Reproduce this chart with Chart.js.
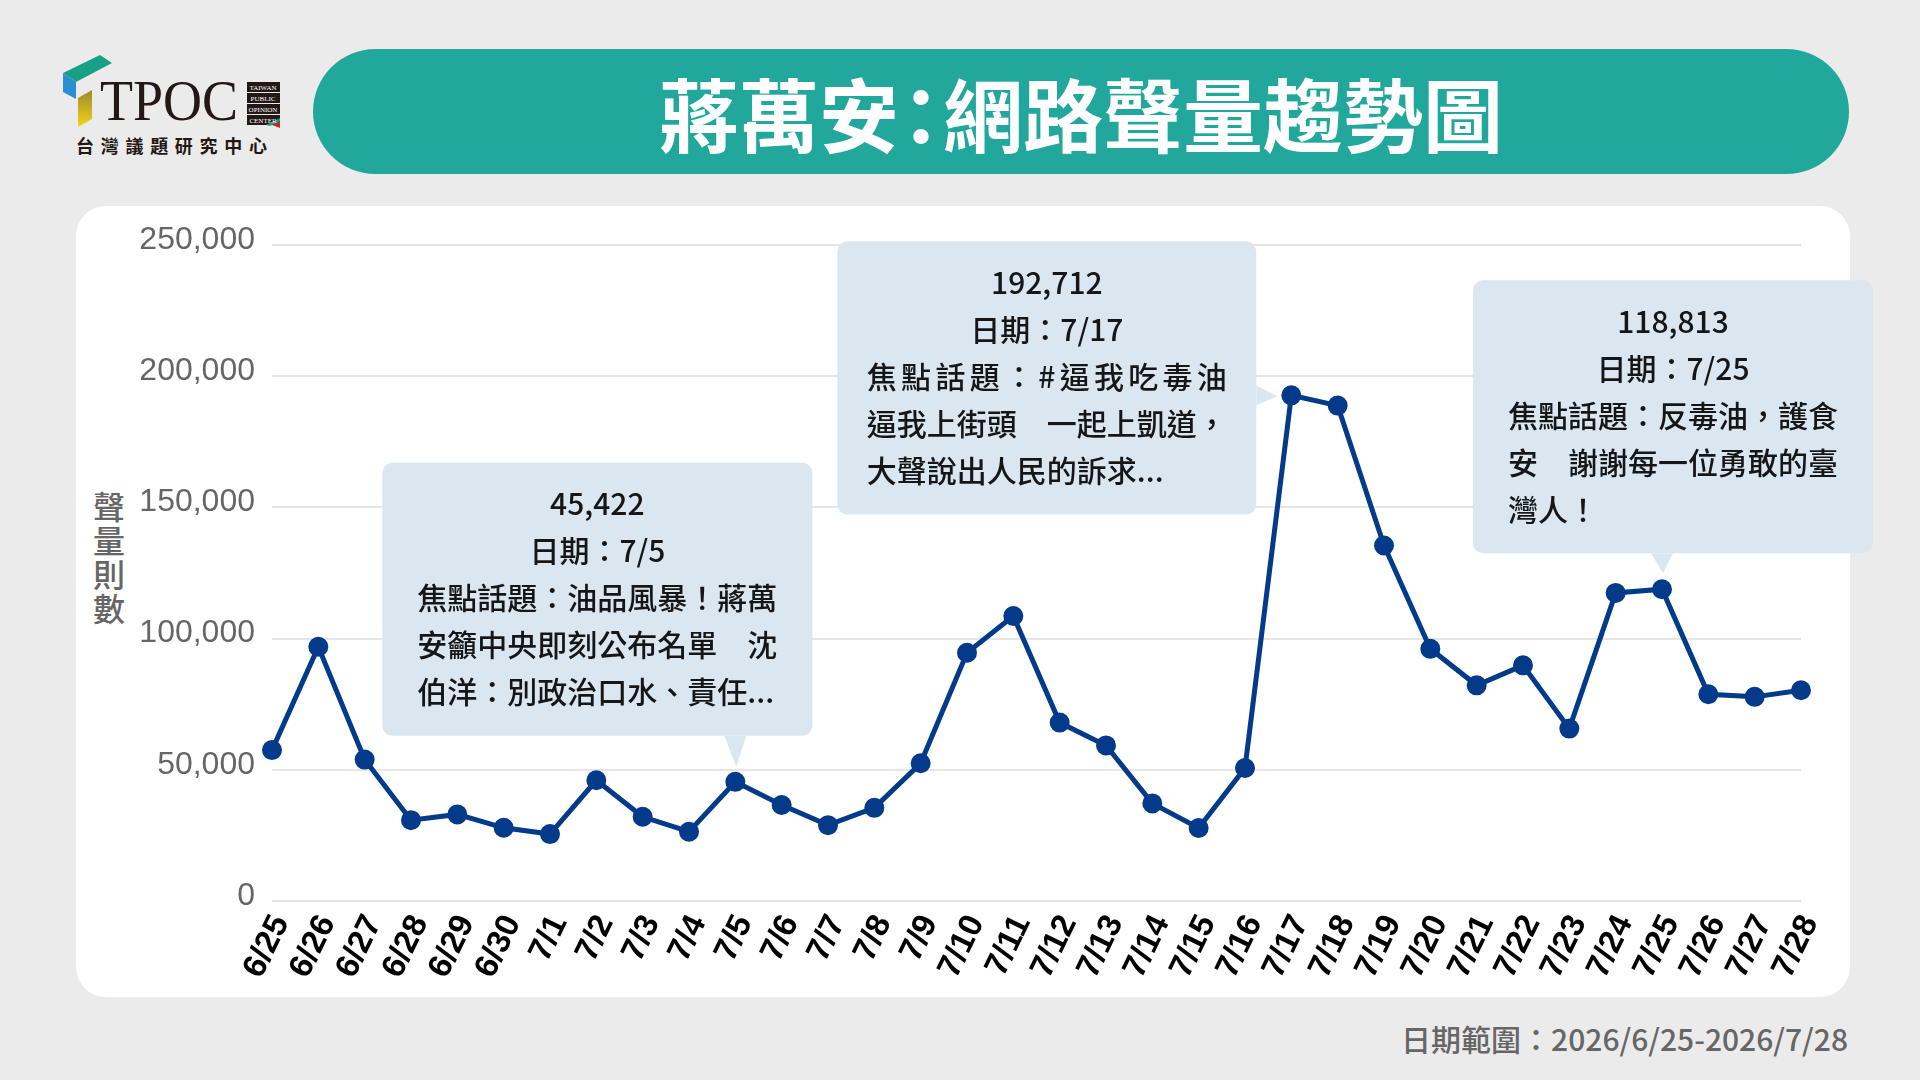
<!DOCTYPE html>
<html lang="zh-Hant">
<head>
<meta charset="utf-8">
<script src="https://cdn.jsdelivr.net/npm/chart.js@4.4.1/dist/chart.umd.min.js"></script>
<style>
html, body { margin: 0; padding: 0; }
body { width: 1920px; height: 1080px; background: #ebebeb; position: relative; overflow: hidden;
  font-family: "Noto Sans CJK TC", "Noto Sans", sans-serif; }
#pill { position: absolute; left: 313px; top: 49px; width: 1536px; height: 125px; border-radius: 63px;
  background: #21a79c; color: #fff; font-weight: 700; font-size: 80px; line-height: 125px; text-align: center; }
#pill .colon { display: inline-block; margin: 0 -18px; }
#card { position: absolute; left: 76px; top: 206px; width: 1774px; height: 791px; border-radius: 30px; background: #fff; }
#ytitle { position: absolute; left: 92px; top: 488px; width: 34px; font-size: 32px; line-height: 34px; color: #666;
  text-align: center; font-weight: 500; }
#footer { position: absolute; right: 72px; top: 1018px; font-size: 30px; line-height: 40px; color: #666; font-weight: 500; }
#logo { position: absolute; left: 0; top: 0; }
#chart { position: absolute; left: 0; top: 0; }
</style>
</head>
<body>
<svg id="logo" width="300" height="170">
  <defs>
    <linearGradient id="yel" x1="0" y1="0" x2="0" y2="1">
      <stop offset="0" stop-color="#9c8a2a"/>
      <stop offset="1" stop-color="#f5d415"/>
    </linearGradient>
  </defs>
  <polygon points="63,73 100,55 112,63 76,82" fill="#16a085"/>
  <polygon points="63,73 76,82 76,99 63,92" fill="#2a8fd2"/>
  <polygon points="78,98 92,90 92,119 78,127" fill="url(#yel)"/>
  <text x="100" y="120" font-family="Liberation Serif" font-size="56" fill="#231815" textLength="138" lengthAdjust="spacingAndGlyphs">TPOC</text>
  <g font-family="Liberation Serif" font-size="7" fill="#fff" text-anchor="middle">
    <rect x="247" y="82" width="33" height="10" fill="#231815"/>
    <rect x="247" y="93" width="33" height="10" fill="#231815"/>
    <rect x="247" y="104" width="33" height="10" fill="#231815"/>
    <rect x="247" y="115" width="33" height="10" fill="#231815"/>
    <polygon points="272,125 280,120 280,128" fill="#c0282f"/>
    <polygon points="266,125 280,118 280,121 270,126" fill="#16a085"/>
    <text x="263" y="90">TAIWAN</text>
    <text x="263" y="101">PUBLIC</text>
    <text x="263" y="112">OPINION</text>
    <text x="263" y="123">CENTER</text>
  </g>
  <text x="76" y="153" font-family="Noto Sans CJK TC" font-weight="700" font-size="18" fill="#231815" textLength="191">台灣議題研究中心</text>
</svg>
<div id="pill">蔣萬安<span class="colon">：</span>網路聲量趨勢圖</div>
<div id="card"></div>
<div id="ytitle">聲<br>量<br>則<br>數</div>
<div id="footer">日期範圍：2026/6/25-2026/7/28</div>
<canvas id="chart" width="1920" height="1080"></canvas>
<script>
// dates on the x axis
const dates = ['6/25', '6/26', '6/27', '6/28', '6/29', '6/30', '7/1', '7/2', '7/3', '7/4', '7/5', '7/6',
  '7/7', '7/8', '7/9', '7/10', '7/11', '7/12', '7/13', '7/14', '7/15', '7/16', '7/17', '7/18', '7/19',
  '7/20', '7/21', '7/22', '7/23', '7/24', '7/25', '7/26', '7/27', '7/28'];
// daily online volume (peaks are labelled)
const volumes = [57500, 96900, 53900, 30800, 33000, 27900, 25500, 46000, 32100, 26400, 45422, 36600,
  28900, 35500, 52500, 94600, 108600, 68000, 59300, 37200, 27800, 50700, 192712, 188800, 135500,
  96100, 82200, 89800, 65700, 117400, 118813, 78800, 77800, 80300];
const yTicks = [0, 50000, 100000, 150000, 200000, 250000];

// callout notes
const noteDays = ['7/5', '7/17', '7/25'];
const noteTopics = [
  ['焦點話題：油品風暴！蔣萬', '安籲中央即刻公布名單　沈', '伯洋：別政治口水、責任...'],
  ['焦點話題：#逼我吃毒油', '逼我上街頭　一起上凱道，', '大聲說出人民的訴求...'],
  ['焦點話題：反毒油，護食', '安　謝謝每一位勇敢的臺', '灣人！']
];

const noteFont = '500 30px "Noto Sans CJK TC"';

function drawJustified(ctx, text, x, y, target) {
  const chars = Array.from(text);
  const widths = chars.map(c => ctx.measureText(c).width);
  const natural = widths.reduce((a, b) => a + b, 0);
  const extra = chars.length > 1 ? (target - natural) / (chars.length - 1) : 0;
  let cx = x;
  chars.forEach((c, i) => { ctx.fillText(c, cx, y); cx += widths[i] + extra; });
}

const calloutPlugin = {
  id: 'callouts',
  afterDatasetsDraw(chart, args, opts) {
    const ctx = chart.ctx;
    const xs = chart.scales.x, ys = chart.scales.y;
    opts.boxes.forEach((b, k) => {
      const idx = dates.indexOf(noteDays[k]);
      const px = xs.getPixelForValue(idx);
      const py = ys.getPixelForValue(volumes[idx]);
      const bx = px + b.dx, by = py + b.dy;
      ctx.save();
      ctx.fillStyle = '#dae7f1';
      ctx.beginPath();
      ctx.roundRect(bx, by, b.w, b.h, 10);
      ctx.fill();
      ctx.beginPath();
      if (b.tip === 'down') {
        ctx.moveTo(px - 11, by + b.h);
        ctx.lineTo(px + 11, by + b.h);
        ctx.lineTo(px + 1, py - b.gap);
      } else {
        ctx.moveTo(bx + b.w, py - 10);
        ctx.lineTo(bx + b.w, py + 10);
        ctx.lineTo(px - b.gap, py + 1);
      }
      ctx.closePath();
      ctx.fill();

      ctx.fillStyle = '#161616';
      ctx.font = noteFont;
      ctx.textBaseline = 'middle';
      ctx.textAlign = 'center';
      const cx = bx + b.w / 2;
      ctx.fillText(volumes[idx].toLocaleString('en-US'), cx, by + 41);
      ctx.fillText('日期：' + noteDays[k], cx, by + 88);
      ctx.textAlign = 'left';
      const lines = noteTopics[k];
      const target = Math.max(...lines.map(l => ctx.measureText(l).width));
      const sx = bx + (b.w - target) / 2;
      lines.forEach((l, i) => {
        const y = by + 135 + 47 * i;
        if (i < lines.length - 1) drawJustified(ctx, l, sx, y, target);
        else ctx.fillText(l, sx, y);
      });
      ctx.restore();
    });
  }
};

Chart.defaults.font.family = '"Liberation Sans", Arial, sans-serif';

new Chart(document.getElementById('chart'), {
  type: 'line',
  data: {
    labels: dates,
    datasets: [{
      data: volumes,
      borderColor: '#043a8a',
      backgroundColor: '#043a8a',
      borderWidth: 5,
      pointRadius: 7.5,
      pointHoverRadius: 7.5,
      tension: 0
    }]
  },
  options: {
    responsive: false,
    animation: false,
    locale: 'en-US',
    layout: { padding: { top: 245, right: 119, bottom: 0, left: 0 } },
    plugins: {
      legend: { display: false },
      tooltip: { enabled: false },
      callouts: {
        boxes: [
          { dx: -353, dy: -319, w: 430, h: 273, tip: 'down', gap: 15 },
          { dx: -454, dy: -154, w: 419, h: 273, tip: 'right', gap: 14 },
          { dx: -189, dy: -309, w: 400, h: 273, tip: 'down', gap: 16 }
        ]
      }
    },
    scales: {
      x: {
        grid: { display: false },
        border: { display: false },
        ticks: {
          autoSkip: false,
          minRotation: 64,
          maxRotation: 64,
          padding: 0,
          labelOffset: 9,
          color: '#000',
          font: { size: 33, weight: 'bold' }
        },
        afterFit(scale) { scale.height = 179; }
      },
      y: {
        min: 0,
        max: 250000,
        afterBuildTicks(scale) { scale.ticks = yTicks.map(v => ({ value: v })); },
        grid: { color: '#e6e6e6', lineWidth: 2, drawTicks: false },
        border: { display: false },
        ticks: {
          padding: 17,
          labelOffset: -5,
          color: '#666',
          font: { size: 32 },
          callback: v => v.toLocaleString('en-US')
        },
        afterFit(scale) { scale.width = 272; }
      }
    }
  },
  plugins: [calloutPlugin]
});
</script>
</body>
</html>
